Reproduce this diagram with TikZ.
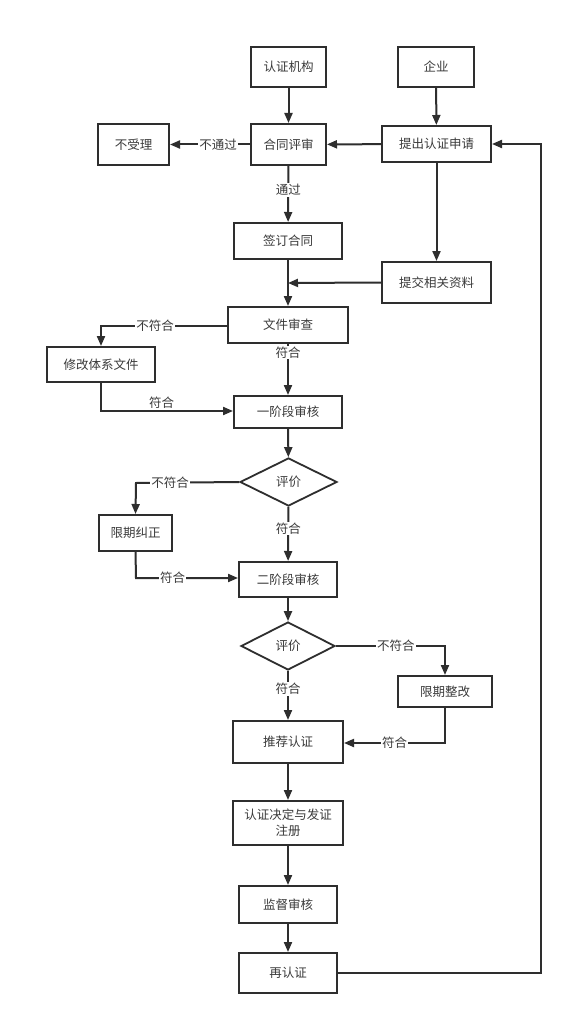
\documentclass[tikz,border=0pt]{standalone}
\usepackage{fontspec}
\newfontfamily\cjk{Noto Sans CJK SC}
\usetikzlibrary{arrows.meta,shapes.geometric}
\definecolor{ln}{HTML}{2E2E2E}
\definecolor{tx}{HTML}{3A3A3A}
\tikzset{
  x=1pt,y=-1pt,
  box/.style={draw=ln,line width=2pt,inner sep=0pt,font=\cjk\fontsize{12.5}{16}\selectfont,text=tx,align=center},
  dia/.style={draw=ln,line width=1.8pt,diamond,inner sep=0pt,font=\cjk\fontsize{12.5}{16}\selectfont,text=tx},
  conn/.style={draw=ln,line width=2pt,-{Triangle[length=10pt,width=8pt]}},
  lab/.style={fill=white,inner sep=1pt,font=\cjk\fontsize{12.5}{16}\selectfont,text=tx}
}
\begin{document}
\begin{tikzpicture}
\useasboundingbox[fill=white] (0,0) rectangle (571,1024);
\node[box,minimum width=75,minimum height=40] (jg) at (288.5,67) {认证机构};
\node[box,minimum width=76,minimum height=40] (qy) at (436,67) {企业};
\node[box,minimum width=71,minimum height=41] (bsl) at (133.5,144.5) {不受理};
\node[box,minimum width=75,minimum height=41] (htps) at (288.5,144.5) {合同评审};
\node[box,minimum width=109,minimum height=36] (tcsq) at (436.5,144) {提出认证申请};
\node[box,minimum width=108,minimum height=36] (qdht) at (288,241) {签订合同};
\node[box,minimum width=109,minimum height=41] (tjzl) at (436.5,282.5) {提交相关资料};
\node[box,minimum width=120,minimum height=36] (wjsc) at (288,325) {文件审查};
\node[box,minimum width=108,minimum height=35] (xgwj) at (101,364.5) {修改体系文件};
\node[box,minimum width=108,minimum height=32] (yjd) at (288,412) {一阶段审核};
\node[dia,minimum width=97,minimum height=48] (pj1) at (288.5,482) {评价};
\node[box,minimum width=73,minimum height=36] (xqjz) at (135.5,533) {限期纠正};
\node[box,minimum width=98,minimum height=35] (ejd) at (288,579.5) {二阶段审核};
\node[dia,minimum width=94,minimum height=48] (pj2) at (288,646) {评价};
\node[box,minimum width=94,minimum height=31] (xqzg) at (445,691.5) {限期整改};
\node[box,minimum width=110,minimum height=42] (tjrz) at (288,742) {推荐认证};
\node[box,minimum width=110,minimum height=44] (rzjd) at (288,823) {认证决定与发证\\注册};
\node[box,minimum width=98,minimum height=37] (jdsh) at (288,904.5) {监督审核};
\node[box,minimum width=98,minimum height=40] (zrz) at (288,973) {再认证};
\coordinate (loopA) at (541,973);
\coordinate (loopB) at (541,144);
\coordinate (c1) at (101,326);
\coordinate (c2) at (101,411);
\coordinate (c3) at (136,483);
\coordinate (c4) at (136,578);
\coordinate (c5) at (445,646);
\coordinate (c6) at (445,743);
\coordinate (c7) at (288,283);

\draw[conn] (jg) -- (htps);
\draw[conn] (qy) -- (tcsq);
\draw[conn] (tcsq) -- (htps);
\draw[conn] (htps) -- node[lab,pos=0.4]{不通过} (bsl);
\draw[conn] (htps) -- node[lab,pos=0.43]{通过} (qdht);
\draw[conn] (tcsq) -- (tjzl);
\draw[conn] (qdht) -- (wjsc);
\draw[conn] (tjzl.west) -- (c7);
\draw[conn] (wjsc.west|-c1) -- node[lab,pos=0.57]{不符合} (c1) -- (xgwj.north);
\draw[conn] (wjsc) -- node[lab,pos=0.17]{符合} (yjd);
\draw[conn] (xgwj.south) -- (c2) -- node[lab,above=1pt,pos=0.46,fill=none]{符合} (yjd.west|-c2);
\draw[conn] (yjd) -- (pj1);
\draw[conn] (pj1.west) -- node[lab,pos=0.67]{不符合} (c3) -- (xqjz.north);
\draw[conn] (pj1) -- node[lab,pos=0.4]{符合} (ejd);
\draw[conn] (xqjz.south) -- (c4) -- node[lab,pos=0.36]{符合} (ejd.west|-c4);
\draw[conn] (ejd) -- (pj2);
\draw[conn] (pj2.east) -- node[lab,pos=0.55]{不符合} (c5) -- (xqzg.north);
\draw[conn] (pj2) -- node[lab,pos=0.37]{符合} (tjrz);
\draw[conn] (xqzg.south) -- (c6) -- node[lab,pos=0.5]{符合} (tjrz.east|-c6);
\draw[conn] (tjrz) -- (rzjd);
\draw[conn] (rzjd) -- (jdsh);
\draw[conn] (jdsh) -- (zrz);
\draw[conn] (zrz.east) -- (loopA) -- (loopB) -- (tcsq.east);
\end{tikzpicture}
\end{document}
